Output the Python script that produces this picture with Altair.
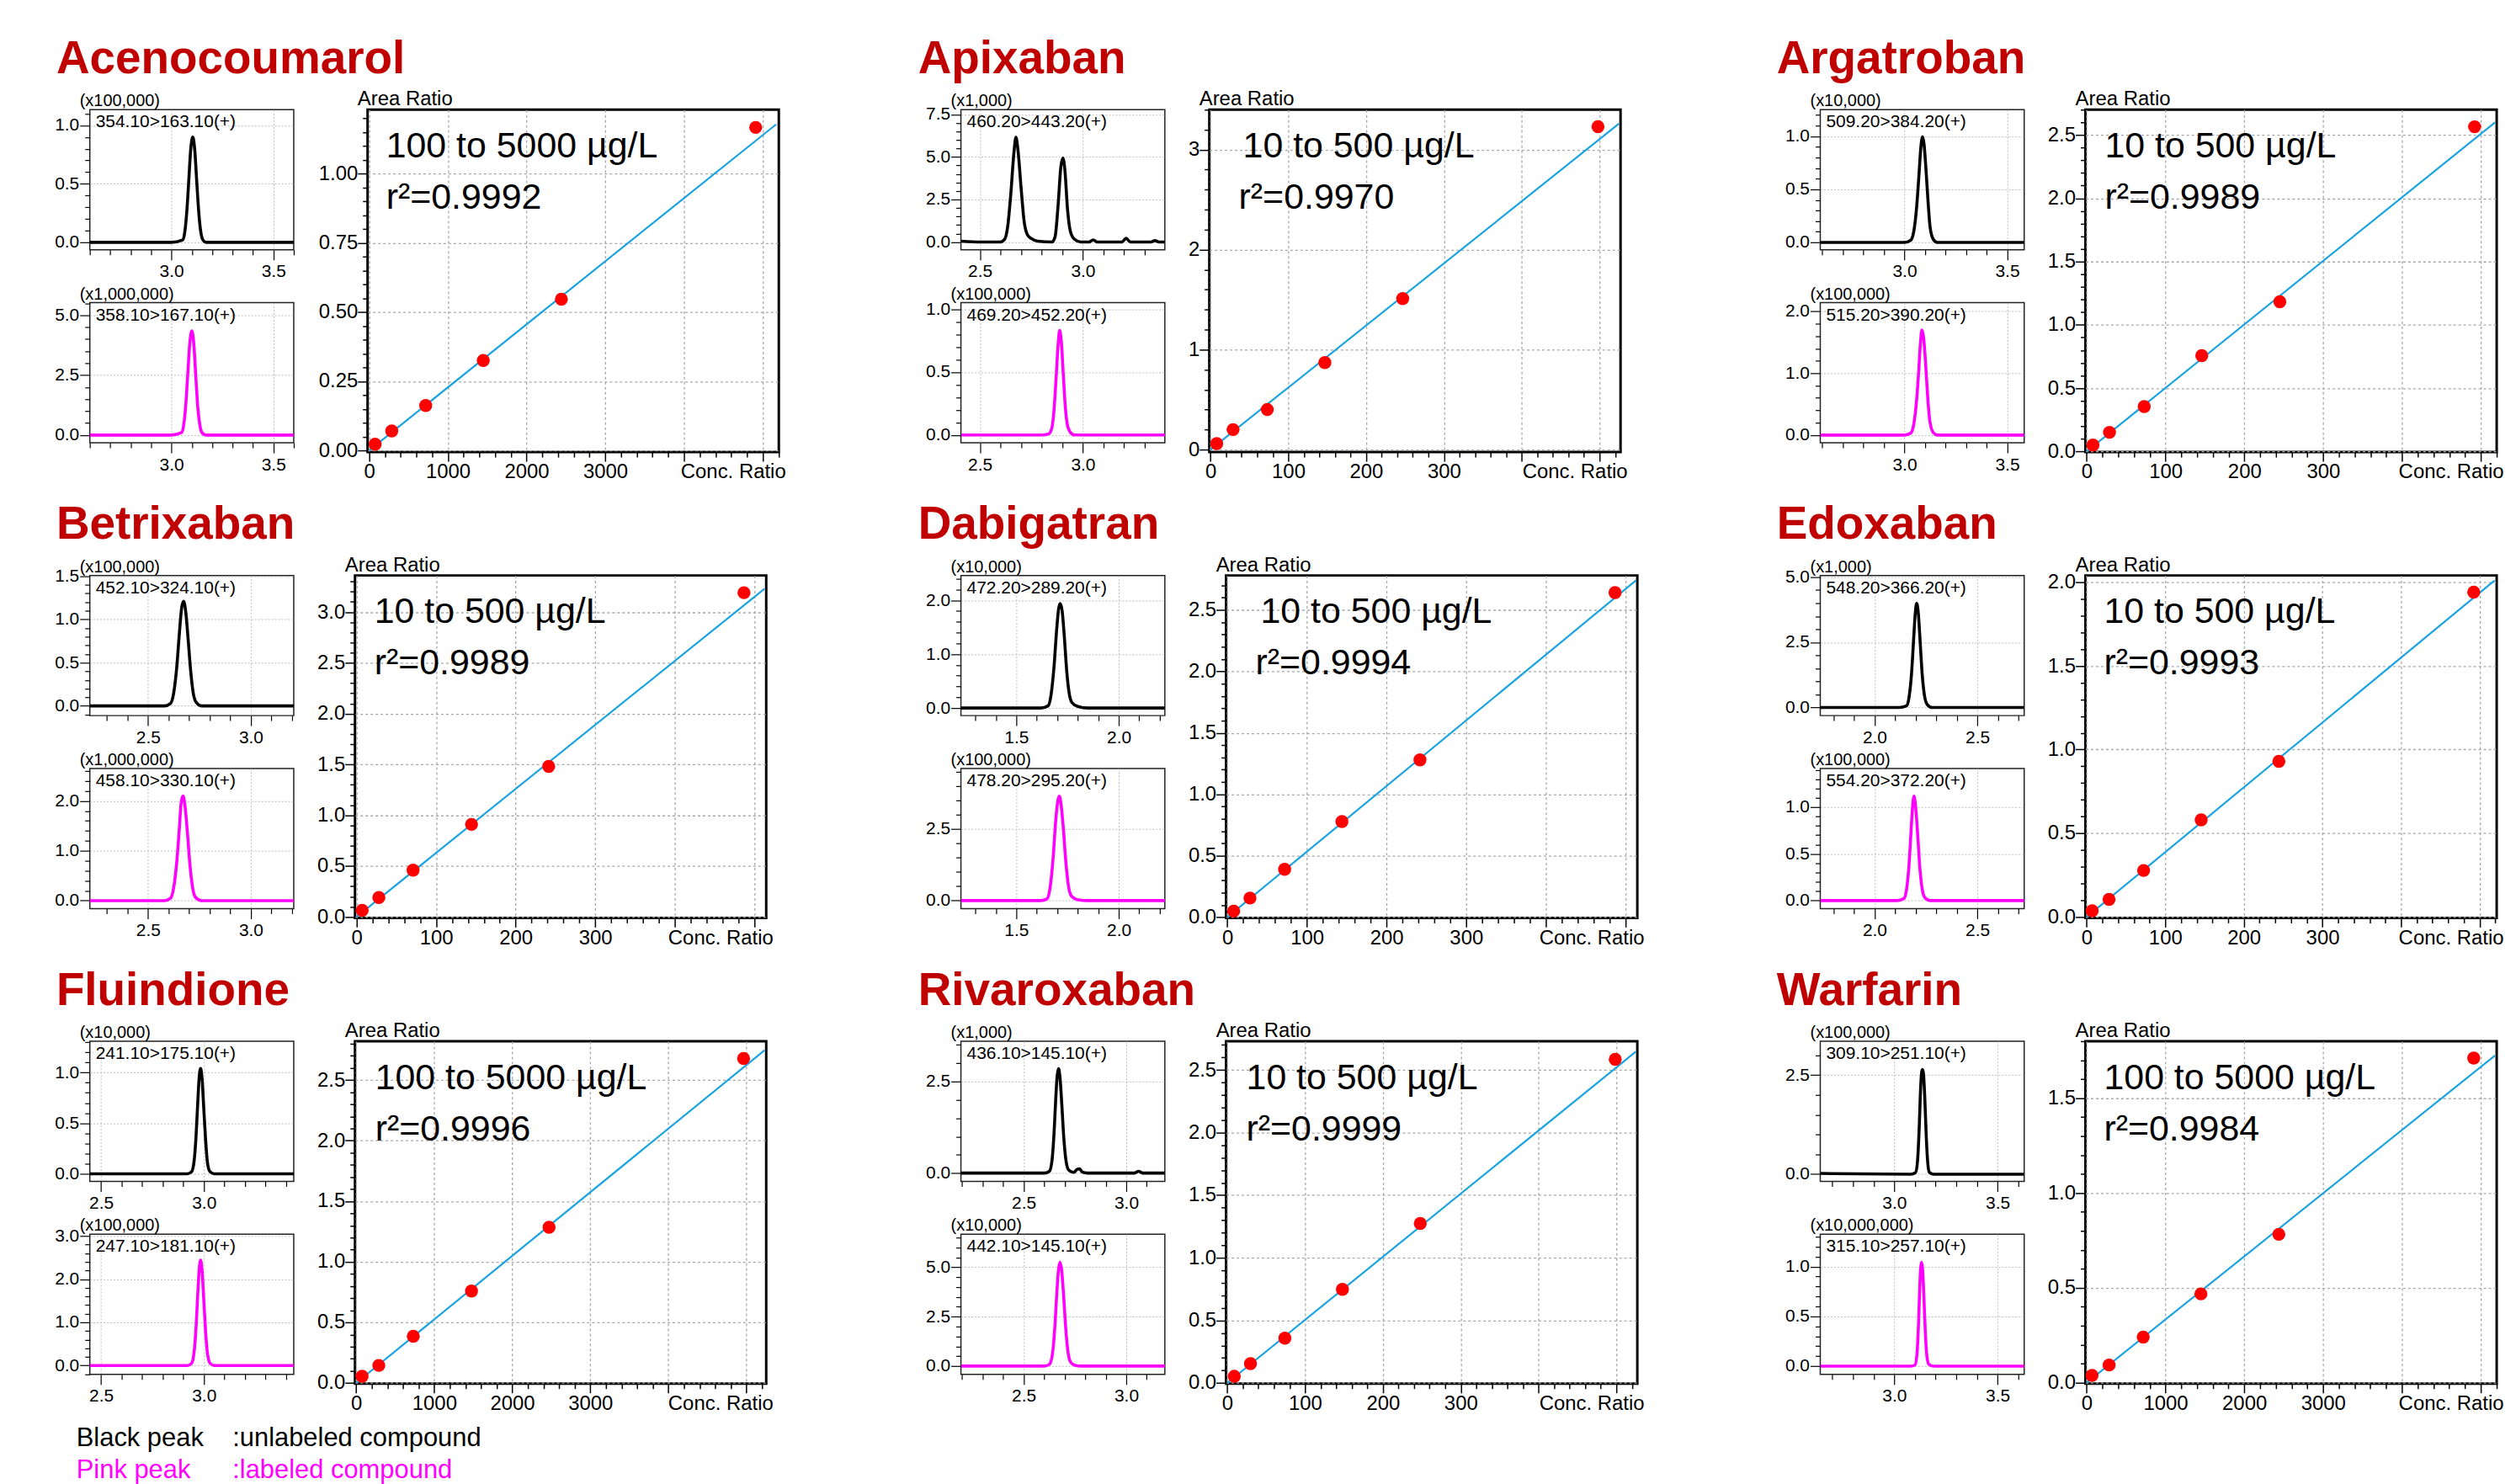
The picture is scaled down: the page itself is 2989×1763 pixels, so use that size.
import math
import altair as alt
import pandas as pd

FONT = "Liberation Sans"

# ---------------- data ----------------
compounds = ["Acenocoumarol", "Apixaban", "Argatroban", "Betrixaban", "Dabigatran",
             "Edoxaban", "Fluindione", "Rivaroxaban", "Warfarin"]
ranges = ["100 to 5000 µg/L", "10 to 500 µg/L", "10 to 500 µg/L", "10 to 500 µg/L",
          "10 to 500 µg/L", "10 to 500 µg/L", "100 to 5000 µg/L", "10 to 500 µg/L",
          "100 to 5000 µg/L"]
r_squared = ["0.9992", "0.9970", "0.9989", "0.9989", "0.9994", "0.9993", "0.9996", "0.9999", "0.9984"]

conc_ratio = [
    [75, 287, 718, 1450, 2442, 4911],
    [8, 29, 73, 147, 247, 498],
    [8, 29, 73, 146, 245, 492],
    [7, 28, 71, 144.5, 241.5, 487],
    [8, 28.5, 72, 144, 242, 487],
    [7, 28.5, 72.5, 145.7, 244.6, 492.5],
    [76, 290, 732, 1478, 2472, 4965],
    [9, 29.8, 74, 148, 248, 498.6],
    [68, 285, 718, 1450, 2439, 4912],
]
area_ratio = [
    [0.0225, 0.070, 0.162, 0.325, 0.546, 1.167],
    [0.06, 0.20, 0.40, 0.87, 1.51, 3.23],
    [0.05, 0.151, 0.355, 0.757, 1.183, 2.565],
    [0.064, 0.19, 0.46, 0.91, 1.48, 3.19],
    [0.05, 0.156, 0.39, 0.778, 1.28, 2.64],
    [0.037, 0.105, 0.278, 0.58, 0.93, 1.94],
    [0.055, 0.145, 0.385, 0.759, 1.285, 2.677],
    [0.053, 0.154, 0.358, 0.748, 1.274, 2.585],
    [0.038, 0.093, 0.24, 0.468, 0.782, 1.711],
]
fit_x = [[0, 5171], [0, 525], [0, 518], [0, 513], [0, 513.5], [0, 519], [0, 5235], [0, 525], [0, 5183]]
fit_y = [[0.0, 1.178], [0.0, 3.26], [0.0, 2.60], [0.0, 3.23], [0.0, 2.74], [0.0, 2.01],
         [0.0, 2.746], [0.0, 2.646], [0.0, 1.725]]

unl_scale = ["(x100,000)", "(x1,000)", "(x10,000)", "(x100,000)", "(x10,000)", "(x1,000)",
             "(x10,000)", "(x1,000)", "(x100,000)"]
lab_scale = ["(x1,000,000)", "(x100,000)", "(x100,000)", "(x1,000,000)", "(x100,000)",
             "(x100,000)", "(x100,000)", "(x10,000)", "(x10,000,000)"]
unl_mrm = ["354.10>163.10(+)", "460.20>443.20(+)", "509.20>384.20(+)", "452.10>324.10(+)",
           "472.20>289.20(+)", "548.20>366.20(+)", "241.10>175.10(+)", "436.10>145.10(+)",
           "309.10>251.10(+)"]
lab_mrm = ["358.10>167.10(+)", "469.20>452.20(+)", "515.20>390.20(+)", "458.10>330.10(+)",
           "478.20>295.20(+)", "554.20>372.20(+)", "247.10>181.10(+)", "442.10>145.10(+)",
           "315.10>257.10(+)"]

unl_rt = [
    [2.60, 3.00, 3.055, 3.065, 3.075, 3.085, 3.095, 3.105, 3.115, 3.125, 3.135, 3.145, 3.155, 3.17, 3.60],
    [2.41, 2.50, 2.60, 2.62, 2.635, 2.65, 2.665, 2.675, 2.685, 2.70, 2.715, 2.73, 2.75, 2.78, 2.85,
     2.865, 2.88, 2.893, 2.903, 2.913, 2.925, 2.94, 2.96, 2.99, 3.03, 3.05, 3.07, 3.19, 3.21, 3.23,
     3.33, 3.35, 3.37, 3.398],
    [2.59, 3.00, 3.03, 3.045, 3.06, 3.07, 3.08, 3.088, 3.095, 3.105, 3.115, 3.125, 3.14, 3.16, 3.583],
    [2.217, 2.58, 2.61, 2.625, 2.64, 2.652, 2.663, 2.673, 2.683, 2.695, 2.707, 2.72, 2.735, 2.76, 3.209],
    [1.23, 1.62, 1.655, 1.67, 1.685, 1.697, 1.707, 1.715, 1.724, 1.735, 1.746, 1.758, 1.772, 1.80, 1.85, 2.225],
    [1.736, 2.12, 2.155, 2.168, 2.18, 2.19, 2.198, 2.205, 2.213, 2.222, 2.232, 2.243, 2.256, 2.28, 2.728],
    [2.445, 2.92, 2.94, 2.952, 2.962, 2.97, 2.977, 2.984, 2.991, 2.999, 3.008, 3.018, 3.03, 3.05, 3.437],
    [2.194, 2.60, 2.625, 2.638, 2.648, 2.656, 2.663, 2.67, 2.677, 2.686, 2.695, 2.706, 2.72, 2.745,
     2.76, 2.772, 2.785, 2.81, 3.04, 3.06, 3.08, 3.188],
    [2.642, 3.08, 3.103, 3.113, 3.121, 3.128, 3.133, 3.137, 3.142, 3.148, 3.155, 3.162, 3.17, 3.19, 3.629],
]
unl_int = [
    [0.0, 0.0, 0.02, 0.08, 0.25, 0.52, 0.80, 0.90, 0.78, 0.50, 0.24, 0.08, 0.02, 0.0, 0.0],
    [0.05, 0.0, 0.0, 0.15, 0.9, 2.8, 5.2, 6.16, 5.4, 3.2, 1.2, 0.45, 0.2, 0.05, 0.0,
     0.3, 2.2, 4.4, 4.94, 4.2, 2.0, 0.6, 0.15, 0.0, 0.0, 0.12, 0.0, 0.0, 0.22, 0.0,
     0.0, 0.08, 0.0, 0.0],
    [0.0, 0.0, 0.02, 0.1, 0.35, 0.62, 0.9, 0.994, 0.93, 0.68, 0.38, 0.14, 0.03, 0.0, 0.0],
    [0.0, 0.0, 0.03, 0.15, 0.45, 0.82, 1.12, 1.21, 1.1, 0.78, 0.42, 0.15, 0.04, 0.0, 0.0],
    [0.0, 0.0, 0.04, 0.25, 0.8, 1.45, 1.85, 1.94, 1.8, 1.3, 0.7, 0.28, 0.1, 0.03, 0.0, 0.0],
    [0.0, 0.0, 0.06, 0.4, 1.3, 2.6, 3.6, 3.99, 3.6, 2.5, 1.25, 0.45, 0.12, 0.0, 0.0],
    [0.0, 0.0, 0.02, 0.12, 0.38, 0.7, 0.95, 1.04, 0.94, 0.66, 0.34, 0.1, 0.02, 0.0, 0.0],
    [0.0, 0.0, 0.05, 0.35, 1.1, 2.0, 2.65, 2.85, 2.6, 1.85, 1.0, 0.35, 0.08, 0.02,
     0.1, 0.12, 0.03, 0.0, 0.0, 0.05, 0.0, 0.0],
    [0.02, 0.0, 0.04, 0.35, 1.2, 2.2, 2.58, 2.64, 2.5, 1.9, 0.95, 0.3, 0.05, 0.0, 0.0],
]
lab_rt = [
    [2.60, 3.00, 3.05, 3.06, 3.07, 3.08, 3.09, 3.10, 3.11, 3.12, 3.13, 3.14, 3.15, 3.17, 3.60],
    [2.41, 2.80, 2.835, 2.85, 2.86, 2.87, 2.88, 2.887, 2.895, 2.905, 2.915, 2.925, 2.94, 2.96, 3.398],
    [2.59, 3.00, 3.03, 3.045, 3.06, 3.07, 3.078, 3.085, 3.093, 3.103, 3.113, 3.123, 3.14, 3.16, 3.583],
    [2.217, 2.58, 2.61, 2.625, 2.64, 2.652, 2.661, 2.670, 2.68, 2.692, 2.704, 2.717, 2.73, 2.76, 3.209],
    [1.23, 1.62, 1.65, 1.665, 1.68, 1.692, 1.702, 1.71, 1.718, 1.73, 1.742, 1.755, 1.77, 1.80, 1.85, 2.225],
    [1.736, 2.11, 2.142, 2.155, 2.167, 2.177, 2.185, 2.192, 2.2, 2.21, 2.22, 2.232, 2.245, 2.27, 2.728],
    [2.445, 2.92, 2.94, 2.952, 2.962, 2.97, 2.977, 2.984, 2.991, 2.999, 3.008, 3.018, 3.03, 3.05, 3.437],
    [2.194, 2.60, 2.625, 2.64, 2.652, 2.662, 2.67, 2.677, 2.685, 2.695, 2.705, 2.716, 2.73, 2.75, 2.78, 3.188],
    [2.642, 3.08, 3.10, 3.11, 3.118, 3.124, 3.128, 3.132, 3.137, 3.143, 3.15, 3.158, 3.167, 3.19, 3.629],
]
lab_int = [
    [0.0, 0.0, 0.1, 0.4, 1.2, 2.5, 3.8, 4.35, 3.8, 2.4, 1.1, 0.4, 0.1, 0.0, 0.0],
    [0.0, 0.0, 0.01, 0.06, 0.2, 0.45, 0.72, 0.83, 0.75, 0.48, 0.22, 0.08, 0.02, 0.0, 0.0],
    [0.0, 0.0, 0.03, 0.17, 0.6, 1.07, 1.5, 1.70, 1.58, 1.15, 0.62, 0.24, 0.04, 0.0, 0.0],
    [0.0, 0.0, 0.05, 0.26, 0.78, 1.42, 1.95, 2.10, 1.9, 1.35, 0.72, 0.26, 0.07, 0.0, 0.0],
    [0.0, 0.0, 0.06, 0.45, 1.5, 2.75, 3.45, 3.65, 3.4, 2.5, 1.35, 0.5, 0.15, 0.03, 0.0, 0.0],
    [0.0, 0.0, 0.02, 0.11, 0.36, 0.72, 1.0, 1.117, 1.0, 0.7, 0.36, 0.12, 0.03, 0.0, 0.0],
    [0.0, 0.0, 0.05, 0.3, 0.9, 1.65, 2.22, 2.44, 2.2, 1.55, 0.8, 0.25, 0.05, 0.0, 0.0],
    [0.0, 0.0, 0.08, 0.6, 2.0, 3.8, 4.9, 5.25, 4.85, 3.5, 1.9, 0.7, 0.18, 0.04, 0.0, 0.0],
    [0.0, 0.0, 0.01, 0.12, 0.45, 0.82, 0.99, 1.043, 0.98, 0.72, 0.36, 0.1, 0.02, 0.0, 0.0],
]

legend_peaks = ["Black peak", "Pink peak"]
legend_descs = [":unlabeled compound", ":labeled compound"]
legend_colors = ["#000000", "#FF00FF"]

# ---------------- axis ranges ----------------
chrom_xdom = [[2.6, 3.6], [2.408, 3.398], [2.59, 3.583], [2.217, 3.209], [1.23, 2.225],
              [1.736, 2.728], [2.445, 3.437], [2.194, 3.188], [2.642, 3.629]]
unl_ydom = [[-0.064, 1.134], [-0.46, 7.78], [-0.07, 1.25], [-0.112, 1.507], [-0.14, 2.46],
            [-0.31, 5.06], [-0.075, 1.31], [-0.225, 3.60], [-0.18, 3.35]]
unl_ystep = [0.5, 2.5, 0.5, 0.5, 1.0, 2.5, 0.5, 2.5, 2.5]
lab_ydom = [[-0.325, 5.52], [-0.062, 1.05], [-0.126, 2.14], [-0.16, 2.65], [-0.28, 4.62],
            [-0.086, 1.414], [-0.206, 3.04], [-0.42, 6.67], [-0.083, 1.325]]
lab_ystep = [2.5, 0.5, 1.0, 1.0, 2.5, 0.5, 1.0, 2.5, 0.5]

calib_xdom = [[-20, 5205], [-1.5, 527], [-1.5, 520], [-2, 515], [-1.5, 515], [-1.5, 521.7],
              [-15, 5255], [-1.5, 527], [-15, 5203]]
calib_ydom = [[-0.006, 1.231], [-0.025, 3.40], [-0.005, 2.70], [-0.01, 3.36], [-0.005, 2.78],
              [-0.005, 2.04], [-0.005, 2.82], [-0.005, 2.73], [-0.005, 1.80]]
calib_ystep = [0.25, 1, 0.5, 0.5, 0.5, 0.5, 0.5, 0.5, 0.5]
calib_yfmt = [".2f", ".0f", ".1f", ".1f", ".1f", ".1f", ".1f", ".1f", ".1f"]
calib_xstep = [1000, 100, 100, 100, 100, 100, 1000, 100, 1000]

# layout constants
ann_x1 = [22, 40, 23, 23, 41, 22, 24, 24, 22]
ann_x2 = [22, 35, 23, 23, 35, 22, 24, 24, 22]
title_dx = [3, -8, -9]
CH_W, CH_H = 243, 167
CA_W, CA_H = 490, 408


def tick_values(lo, hi, step):
    k0 = math.ceil(lo / step - 1e-9)
    k1 = math.floor(hi / step + 1e-9)
    return [round(k * step, 6) for k in range(k0, k1 + 1)]


def major_test(step):
    return f"abs(datum.value / {step} - round(datum.value / {step})) < 0.001"


def cond(test, a, b):
    return {"condition": {"test": test, "value": a}, "value": b}


def chrom_chart(rt, inten, color, xdom, ydom, ystep, scale_txt, mrm):
    df = pd.DataFrame({"rt": rt, "intensity": inten})
    xt = major_test(0.5)
    yt = major_test(ystep)
    xaxis = alt.Axis(
        values=tick_values(xdom[0], xdom[1], 0.1), format=".1f",
        labelExpr=f"({xt}) ? datum.label : ''", labelOverlap=False, labelFlush=False,
        labelFontSize=cond(xt, 21, 0), labelPadding=3, labelColor="black",
        tickSize=cond(xt, 12, 6),
        tickColor="black", tickWidth=1.2, domain=False, grid=True,
        gridColor="#bdbdbd", gridDash=[2, 2], gridWidth=1,
        gridOpacity=cond(xt, 1, 0), title=None)
    yaxis = alt.Axis(
        values=tick_values(ydom[0], ydom[1], ystep / 5), format=".1f",
        labelExpr=f"({yt}) ? datum.label : ''", labelOverlap=False, labelFlush=False,
        labelFontSize=cond(yt, 21, 0), labelPadding=1, labelColor="black",
        tickSize=cond(yt, 12, 6),
        tickColor="black", tickWidth=1.2, domain=False, grid=True,
        gridColor="#bdbdbd", gridDash=[2, 2], gridWidth=1,
        gridOpacity=cond(yt, 1, 0), title=None)
    line = alt.Chart(df).mark_line(color=color, strokeWidth=3.6, interpolate="monotone",
                                   clip=True).encode(
        x=alt.X("rt:Q", scale=alt.Scale(domain=xdom, nice=False, zero=False), axis=xaxis),
        y=alt.Y("intensity:Q", scale=alt.Scale(domain=ydom, nice=False, zero=False), axis=yaxis),
    )
    label = alt.Chart(pd.DataFrame({"mrm": [mrm]})).mark_text(
        align="left", baseline="top", fontSize=21, color="black").encode(
        x=alt.value(7), y=alt.value(4), text="mrm:N")
    scale_lbl = alt.Chart(pd.DataFrame({"s": [scale_txt]})).mark_text(
        align="left", baseline="alphabetic", fontSize=20, color="black").encode(
        x=alt.value(-12), y=alt.value(-4), text="s:N")
    return alt.layer(line, label, scale_lbl).properties(
        width=CH_W, height=CH_H,
        view=alt.ViewBackground(stroke="#222222", strokeWidth=1.5))


def calib_chart(i):
    xs = calib_xstep[i]
    ys = calib_ystep[i]
    xdom = calib_xdom[i]
    ydom = calib_ydom[i]
    xt = major_test(xs)
    yt = major_test(ys)
    xshow = f"({xt}) && datum.value < {3.5 * xs}"
    xaxis = alt.Axis(
        values=tick_values(xdom[0], xdom[1], xs / 5), format=".0f",
        labelExpr=f"({xshow}) ? datum.label : ''",
        labelOverlap=False, labelFlush=False, labelFontSize=cond(xshow, 24, 0),
        labelPadding=1, labelColor="black",
        tickSize=cond(xt, 11, 6),
        tickColor="black", tickWidth=1.5, domain=False, grid=True,
        gridColor="#a8a8a8", gridDash=[3, 3], gridWidth=1.3,
        gridOpacity=cond(xt, 1, 0),
        title="Conc. Ratio", titleFontSize=24, titleFontWeight="normal", titleColor="black",
        titleX=CA_W + 8, titleY=31, titleAlign="right", titleBaseline="alphabetic")
    yaxis = alt.Axis(
        values=tick_values(ydom[0], ydom[1], ys / 5), format=calib_yfmt[i],
        labelExpr=f"({yt}) ? datum.label : ''",
        labelOverlap=False, labelFlush=False, labelFontSize=cond(yt, 24, 0),
        labelPadding=0, labelColor="black",
        tickSize=cond(yt, 12, 6),
        tickColor="black", tickWidth=1.5, domain=False, grid=True,
        gridColor="#a8a8a8", gridDash=[3, 3], gridWidth=1.3,
        gridOpacity=cond(yt, 1, 0), title=None)
    xsc = alt.Scale(domain=xdom, nice=False, zero=False)
    ysc = alt.Scale(domain=ydom, nice=False, zero=False)
    pts_df = pd.DataFrame({"conc": conc_ratio[i], "area": area_ratio[i]})
    fit_df = pd.DataFrame({"conc": fit_x[i], "area": fit_y[i]})
    fit = alt.Chart(fit_df).mark_line(color="#1AA3E0", strokeWidth=2.2, clip=True).encode(
        x=alt.X("conc:Q", scale=xsc, axis=xaxis),
        y=alt.Y("area:Q", scale=ysc, axis=yaxis))
    pts = alt.Chart(pts_df).mark_circle(size=240, color="#FF0000", opacity=1).encode(
        x=alt.X("conc:Q", scale=xsc, axis=xaxis),
        y=alt.Y("area:Q", scale=ysc, axis=yaxis))
    ann1 = alt.Chart(pd.DataFrame({"t": [ranges[i]]})).mark_text(
        align="left", baseline="alphabetic", fontSize=43, color="black").encode(
        x=alt.value(ann_x1[i]), y=alt.value(57), text="t:N")
    ann2 = alt.Chart(pd.DataFrame({"t": ["r²=" + r_squared[i]]})).mark_text(
        align="left", baseline="alphabetic", fontSize=43, color="black").encode(
        x=alt.value(ann_x2[i]), y=alt.value(118), text="t:N")
    area_lbl = alt.Chart(pd.DataFrame({"t": ["Area Ratio"]})).mark_text(
        align="left", baseline="alphabetic", fontSize=24, color="black").encode(
        x=alt.value(-12), y=alt.value(-5), text="t:N")
    return alt.layer(fit, pts, ann1, ann2, area_lbl).properties(
        width=CA_W, height=CA_H,
        view=alt.ViewBackground(stroke="black", strokeWidth=3))


blocks = []
for i, name in enumerate(compounds):
    c1 = chrom_chart(unl_rt[i], unl_int[i], "#000000", chrom_xdom[i], unl_ydom[i],
                     unl_ystep[i], unl_scale[i], unl_mrm[i])
    c2 = chrom_chart(lab_rt[i], lab_int[i], "#FF00FF", chrom_xdom[i], lab_ydom[i],
                     lab_ystep[i], lab_scale[i], lab_mrm[i])
    block = alt.hconcat(
        alt.vconcat(c1, c2, spacing=5),
        calib_chart(i),
        spacing=25,
        title=alt.TitleParams(name, anchor="start", fontSize=55, fontWeight="bold",
                              color="#C00000", offset=-49, dx=title_dx[i % 3],
                              baseline="bottom"),
    )
    blocks.append(block)

grid = alt.concat(*blocks, columns=3, spacing={"row": 21, "column": 156})

legend_df = pd.DataFrame({"peak": legend_peaks, "desc": legend_descs, "color": legend_colors})
lbase = alt.Chart(legend_df).encode(
    y=alt.Y("peak:N", sort=legend_peaks, axis=None,
            scale=alt.Scale(paddingInner=0, paddingOuter=0)),
    color=alt.Color("color:N", scale=None),
)
leg1 = lbase.mark_text(align="left", baseline="middle", fontSize=31).encode(
    x=alt.value(-16), text="peak:N")
leg2 = lbase.mark_text(align="left", baseline="middle", fontSize=31).encode(
    x=alt.value(170), text="desc:N")
legend = alt.layer(leg1, leg2).properties(
    width=700, height=77, view=alt.ViewBackground(stroke="white", strokeWidth=0))

chart = alt.vconcat(grid, legend, spacing=8).properties(
    padding={"left": 56, "top": 32, "right": 5, "bottom": 5}
).configure(font=FONT).configure_view(strokeWidth=0).configure_axis(
    labelFont=FONT, titleFont=FONT).configure_title(font=FONT).configure_text(font=FONT)

chart.save("out.html", embed_options={"renderer": "svg", "actions": False})
